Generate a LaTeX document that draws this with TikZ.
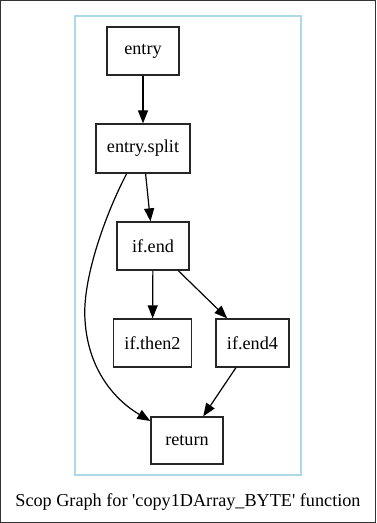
\documentclass[tikz,border=0pt]{standalone}
\usepackage{fontspec}
\setmainfont{Liberation Serif}
\usepackage{tikz}
\usetikzlibrary{calc,arrows.meta}
\definecolor{clusterblue}{HTML}{ADD8E6}
\def\bb{\node[bb]}

\begin{document}
\begin{tikzpicture}[x=1pt,y=-1pt,
  bb/.style={draw=black!85,line width=1.3pt,minimum width=72pt,minimum height=48pt,
    inner xsep=11pt,font=\fontsize{18.2}{20}\selectfont},
  edge/.style={line width=1.2pt,-{Triangle[length=13pt,width=10pt]}}]
\useasboundingbox (0,0) rectangle (376,523);
\draw[line width=1pt,black!80] (0.5,0.5) rectangle (375.5,522.5);

% the scop cluster
\draw[clusterblue,line width=1.2pt] (75,16) rectangle (301,475);

% basic blocks
\bb (entry) at (143,51) {entry};
\bb[minimum height=49pt] (split) at (143,148.5) {entry.split};
\bb (ifend) at (153,246) {if.end};
\bb (then) at (152.5,343) {if.then2};
\bb (ifendf) at (252.5,343) {if.end4};
\bb[minimum height=47pt] (ret) at (187,440.5) {return};

% control flow
\draw[edge] (entry) -- (split);
\draw[edge] (split) -- (ifend);
\draw[edge] (ifend) -- (then);
\draw[edge] (ifend) -- (ifendf);
\draw[edge] (ifendf) -- (ret);
\coordinate (bend) at (85,320); % the long edge swings out left
\draw[edge] (split.237) .. controls (105,215) and (82,280) .. (bend)
  .. controls (88,370) and (115,400) .. (ret.152);

\node[font=\fontsize{18.2}{20}\selectfont] (title) at (188,502)
  {Scop Graph for \textquotesingle copy1DArray\_BYTE\textquotesingle{} function};
\end{tikzpicture}
\end{document}
